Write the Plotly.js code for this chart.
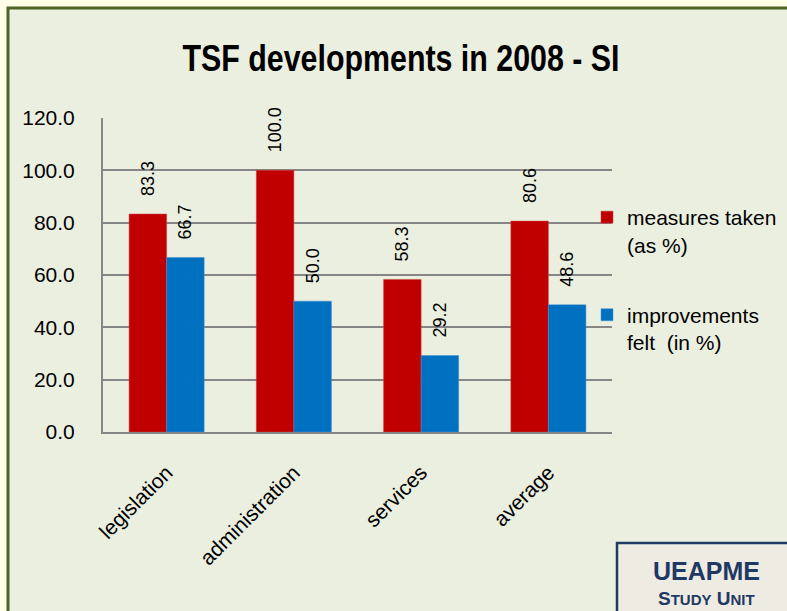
<!DOCTYPE html>
<html>
<head>
<meta charset="utf-8">
<script src="https://cdn.plot.ly/plotly-3.0.1.min.js"></script>
<style>
html,body{margin:0;padding:0;background:#FFFFE8;}
#chart{width:787px;height:611px;}
</style>
</head>
<body>
<div id="chart"></div>
<script>
const categories = ["legislation", "administration", "services", "average"];
const measuresTaken = [83.3, 100.0, 58.3, 80.6];
const improvementsFelt = [66.7, 50.0, 29.2, 48.6];
const seriesNames = ["measures taken<br>(as %)", "improvements<br>felt&nbsp;&nbsp;(in %)"];
const yTicks = [0, 20, 40, 60, 80, 100, 120];

const W = 787, H = 611;
const M = {l: 103, r: 175, t: 118, b: 179, autoexpand: false};
const px = x => (x - M.l) / (W - M.l - M.r);
const py = y => 1 - (y - M.t) / (H - M.t - M.b);

const labelText = v => v.map(d => "&nbsp;&nbsp;&nbsp;" + d.toFixed(1));

const traces = [
  {
    type: "bar", x: categories, y: measuresTaken, name: seriesNames[0],
    legendgroup: "a",
    marker: {color: "#C00000", line: {color: "#D04040", width: 0.5}},
    text: labelText(measuresTaken), textposition: "outside", textangle: -90,
    constraintext: "none", cliponaxis: false,
    textfont: {family: "Liberation Sans, Arial, sans-serif", size: 18, color: "#000"},
    hoverinfo: "skip"
  },
  {
    type: "bar", x: categories, y: improvementsFelt, name: seriesNames[1],
    legendgroup: "b",
    marker: {color: "#0070C0", line: {color: "#4090D0", width: 0.5}},
    text: labelText(improvementsFelt), textposition: "outside", textangle: -90,
    constraintext: "none", cliponaxis: false,
    textfont: {family: "Liberation Sans, Arial, sans-serif", size: 18, color: "#000"},
    hoverinfo: "skip"
  }
];

const layout = {
  width: W, height: H,
  margin: M,
  paper_bgcolor: "#FFFFE8",
  plot_bgcolor: "#EEEBE0",
  font: {family: "Liberation Sans, Arial, sans-serif", size: 21, color: "#000"},
  title: {
    text: "<b>TSF developments in 2008 - SI</b>",
    font: {family: "Liberation Sans, Arial, sans-serif", size: 36, color: "#000"},
    xref: "container", yref: "container",
    x: 401 / W, y: 1 - 58 / H, xanchor: "center", yanchor: "middle"
  },
  barmode: "group",
  bargap: 0.41,
  bargroupgap: 0,
  xaxis: {
    type: "category",
    tickangle: -45,
    ticks: "outside", ticklen: 18, tickcolor: "rgba(0,0,0,0)",
    showline: true, linecolor: "#868686", linewidth: 2,
    showgrid: false,
    tickfont: {size: 21}
  },
  yaxis: {
    range: [0, 120],
    tickvals: yTicks,
    tickformat: ".1f",
    ticks: "outside", ticklen: 22, tickcolor: "rgba(0,0,0,0)",
    showline: true, linecolor: "#868686", linewidth: 2,
    showgrid: true, gridcolor: "#868686", gridwidth: 2,
    zeroline: false,
    tickfont: {size: 21}
  },
  legend: {
    x: px(587), y: py(197), xanchor: "left", yanchor: "top",
    bgcolor: "rgba(0,0,0,0)",
    font: {size: 21, color: "#000"},
    traceorder: "grouped",
    tracegroupgap: 40,
    valign: "top"
  },
  shapes: [
    {type: "rect", xref: "paper", yref: "paper", layer: "below",
     x0: px(8), x1: px(820), y0: py(8), y1: py(640),
     fillcolor: "#EBEFE0", line: {color: "#4F6228", width: 3}},
    {type: "rect", xref: "paper", yref: "paper", layer: "above",
     x0: px(617), x1: px(820), y0: py(543), y1: py(640),
     fillcolor: "#EEECE2", line: {color: "#1F3864", width: 2.5}}
  ],
  annotations: [
    {xref: "paper", yref: "paper", x: px(706), y: py(571), xanchor: "center", yanchor: "middle",
     showarrow: false, text: "<b>UEAPME</b>",
     font: {family: "Liberation Sans, Arial, sans-serif", size: 25, color: "#1F3864"}},
    {xref: "paper", yref: "paper", x: px(706), y: py(598), xanchor: "center", yanchor: "middle",
     showarrow: false, text: "<b>S<span style='font-size:15px'>TUDY</span> U<span style='font-size:15px'>NIT</span></b>",
     font: {family: "Liberation Sans, Arial, sans-serif", size: 19, color: "#1F3864"}}
  ]
};

Plotly.newPlot("chart", traces, layout, {displayModeBar: false, staticPlot: true}).then(gd => {
  const t = gd.querySelector(".gtitle");
  if (t) {
    t.setAttribute("textLength", "437");
    t.setAttribute("lengthAdjust", "spacingAndGlyphs");
  }
});
</script>
</body>
</html>
